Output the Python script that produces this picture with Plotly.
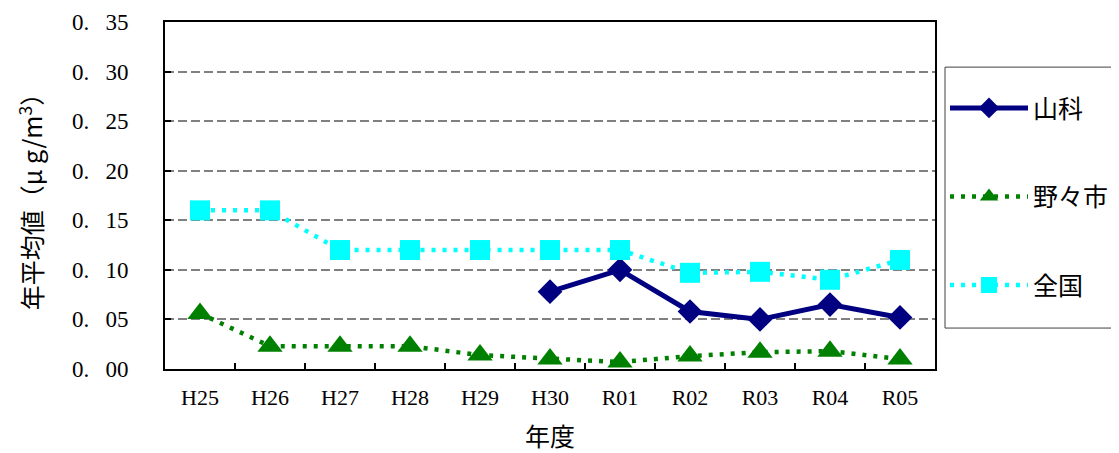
import plotly.graph_objects as go

years = ["H25", "H26", "H27", "H28", "H29", "H30", "R01", "R02", "R03", "R04", "R05"]
yamashina = [None, None, None, None, None, 0.078, 0.100, 0.058, 0.050, 0.065, 0.052]
nonoichi = [0.056, 0.023, 0.023, 0.023, 0.014, 0.010, 0.007, 0.013, 0.017, 0.018, 0.010]
zenkoku = [0.160, 0.160, 0.120, 0.120, 0.120, 0.120, 0.120, 0.097, 0.098, 0.090, 0.110]
ytick_vals = [0.00, 0.05, 0.10, 0.15, 0.20, 0.25, 0.30, 0.35]
ytick_text = ["0.\u2002\u200900", "0.\u2002\u200905", "0.\u2002\u200910", "0.\u2002\u200915",
              "0.\u2002\u200920", "0.\u2002\u200925", "0.\u2002\u200930", "0.\u2002\u200935"]

FONT = "Liberation Serif, Noto Sans CJK JP, serif"
CJK = "Noto Sans CJK JP, sans-serif"

fig = go.Figure()
fig.add_trace(go.Scatter(
    x=years, y=yamashina, name="山科", mode="lines+markers",
    line=dict(color="#000080", width=5),
    marker=dict(symbol="diamond", size=19, color="#000080"),
    legendgroup="a",
))
fig.add_trace(go.Scatter(
    x=years, y=nonoichi, name="野々市", mode="lines+markers",
    line=dict(color="#008000", width=4.5, dash="4px,7px"),
    marker=dict(symbol="triangle-up", size=22, color="#008000"),
    legendgroup="b",
))
fig.add_trace(go.Scatter(
    x=years, y=zenkoku, name="全国", mode="lines+markers",
    line=dict(color="#00FFFF", width=4.5, dash="4px,7px"),
    marker=dict(symbol="square", size=20, color="#00FFFF"),
    legendgroup="c",
))

# page body has an 8px margin, so the figure is 8px smaller and offset
fig.update_layout(
    width=1111, height=445,
    margin=dict(l=157, r=184, t=14, b=84, autoexpand=False),
    paper_bgcolor="white", plot_bgcolor="white",
    font=dict(family=FONT, size=22, color="black"),
    showlegend=True,
    legend=dict(
        x=1.013, xanchor="left", y=0.818, yanchor="top",
        borderwidth=0, bgcolor="rgba(0,0,0,0)",
        tracegroupgap=53, font=dict(family=CJK, size=25),
        itemwidth=78,
    ),
    shapes=[dict(
        type="rect", xref="paper", yref="paper",
        x0=1.013, x1=1.25, y0=0.118, y1=0.870,
        line=dict(color="#404040", width=1), fillcolor="rgba(0,0,0,0)", layer="below",
    )],
)
fig.update_xaxes(
    type="category", categoryorder="array", categoryarray=years,
    range=[-0.5, 10.5], automargin=False,
    showline=True, linecolor="black", linewidth=2, mirror=True,
    ticks="inside", tickson="boundaries", ticklen=6, tickcolor="black", tickwidth=1.5,
    showgrid=False,
    tickfont=dict(size=22), ticklabelstandoff=8,
    title=dict(text="年度", font=dict(family=CJK, size=25), standoff=19),
)
fig.update_yaxes(
    range=[0, 0.35], automargin=False,
    tickvals=ytick_vals, ticktext=ytick_text,
    showline=True, linecolor="black", linewidth=2, mirror=True,
    ticks="inside", ticklen=6, tickcolor="black", tickwidth=1.5,
    showgrid=True, gridcolor="#808080", gridwidth=2, griddash="9px,4px",
    zeroline=False,
    tickfont=dict(size=23), ticklabelstandoff=30,
    title=dict(text="年平均値（μ g/m<sup>3</sup>）", font=dict(family=CJK, size=25), standoff=22),
)

fig.write_html("out.html")
